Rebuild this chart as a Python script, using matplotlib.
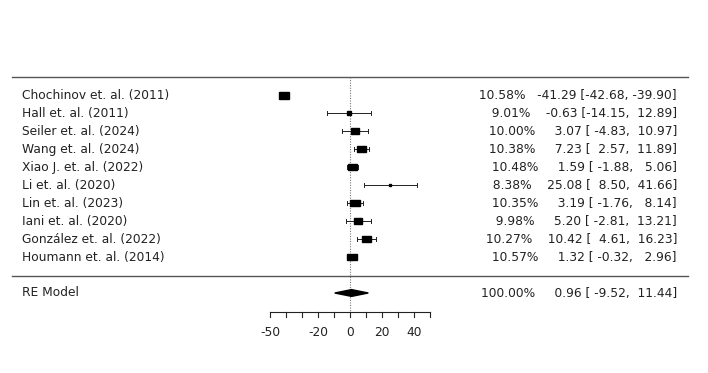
import matplotlib.pyplot as plt
from matplotlib.patches import Rectangle, Polygon
import numpy as np

plt.rcParams['font.family'] = ['DejaVu Sans']

studies = ['Chochinov et. al. (2011)', 'Hall et. al. (2011)', 'Seiler et. al. (2024)',
           'Wang et. al. (2024)', 'Xiao J. et. al. (2022)', 'Li et. al. (2020)',
           'Lin et. al. (2023)', 'Iani et. al. (2020)', 'González et. al. (2022)',
           'Houmann et. al. (2014)']
est = [-41.29, -0.63, 3.07, 7.23, 1.59, 25.08, 3.19, 5.20, 10.42, 1.32]
lo = [-42.68, -14.15, -4.83, 2.57, -1.88, 8.50, -1.76, -2.81, 4.61, -0.32]
hi = [-39.90, 12.89, 10.97, 11.89, 5.06, 41.66, 8.14, 13.21, 16.23, 2.96]
weights = [10.58, 9.01, 10.00, 10.38, 10.48, 8.38, 10.35, 9.98, 10.27, 10.57]
re_est, re_lo, re_hi, re_wt = 0.96, -9.52, 11.44, 100.00
ticks = list(range(-50, 51, 10))
tick_labels = {-50: '-50', -20: '-20', 0: '0', 20: '20', 40: '40'}

# axes mapped to pixels: 1 unit = 1.6 px, zero at px 350, y in pixels from top
S = 1.6
X0 = 350
def px(p):
    return (p - X0) / S

fig = plt.figure(figsize=(7.08, 3.73), dpi=100)
ax = fig.add_axes([0, 0, 1, 1])
ax.set_xlim(px(0), px(708))
ax.set_ylim(373, 0)
ax.axis('off')

col = '#222222'
fs = 8.8
rows = 95 + 18 * np.arange(len(studies))
re_y = 293
axis_y = 312

ax.plot([px(12), px(688)], [77, 77], color='#555555', lw=1)
ax.plot([px(12), px(688)], [276, 276], color='#555555', lw=1)
ax.plot([0, 0], [77, axis_y], color='#777777', lw=0.8, ls=(0, (1, 1.3)))

def row_text(y, label, wt, e, l, h):
    ax.text(px(22), y, label, fontsize=fs, color=col, va='center', ha='left')
    annot = f'{wt:6.2f}%   {e:6.2f} [{l:6.2f}, {h:6.2f}]'
    ax.text(px(677), y, annot, fontsize=fs, color=col, va='center', ha='right')

w = np.array(weights)
frac = 0.25 + 0.75 * (w - w.min()) / (w.max() - w.min())
for i, y in enumerate(rows):
    ax.plot([lo[i], hi[i]], [y, y], color=col, lw=0.7)
    for e in (lo[i], hi[i]):
        ax.plot([e, e], [y - 1.6, y + 1.6], color=col, lw=0.7)
    wpx = 10 * frac[i]
    hpx = 7 * frac[i]
    ax.add_patch(Rectangle((est[i] - wpx / S / 2, y - hpx / 2), wpx / S, hpx,
                           color='black', zorder=3))
    row_text(y, studies[i], weights[i], est[i], lo[i], hi[i])

ax.add_patch(Polygon([[re_lo, re_y], [re_est, re_y - 3.4], [re_hi, re_y], [re_est, re_y + 3.4]],
                     closed=True, color='black', zorder=3))
row_text(re_y, 'RE Model', re_wt, re_est, re_lo, re_hi)

# x axis
ax.plot([ticks[0], ticks[-1]], [axis_y, axis_y], color=col, lw=0.8)
for t in ticks:
    ax.plot([t, t], [axis_y, axis_y + 5], color=col, lw=0.8)
    if t in tick_labels:
        ax.text(t, axis_y + 20, tick_labels[t], fontsize=fs, color=col, ha='center', va='center')

fig.savefig('out.png', dpi=100)
